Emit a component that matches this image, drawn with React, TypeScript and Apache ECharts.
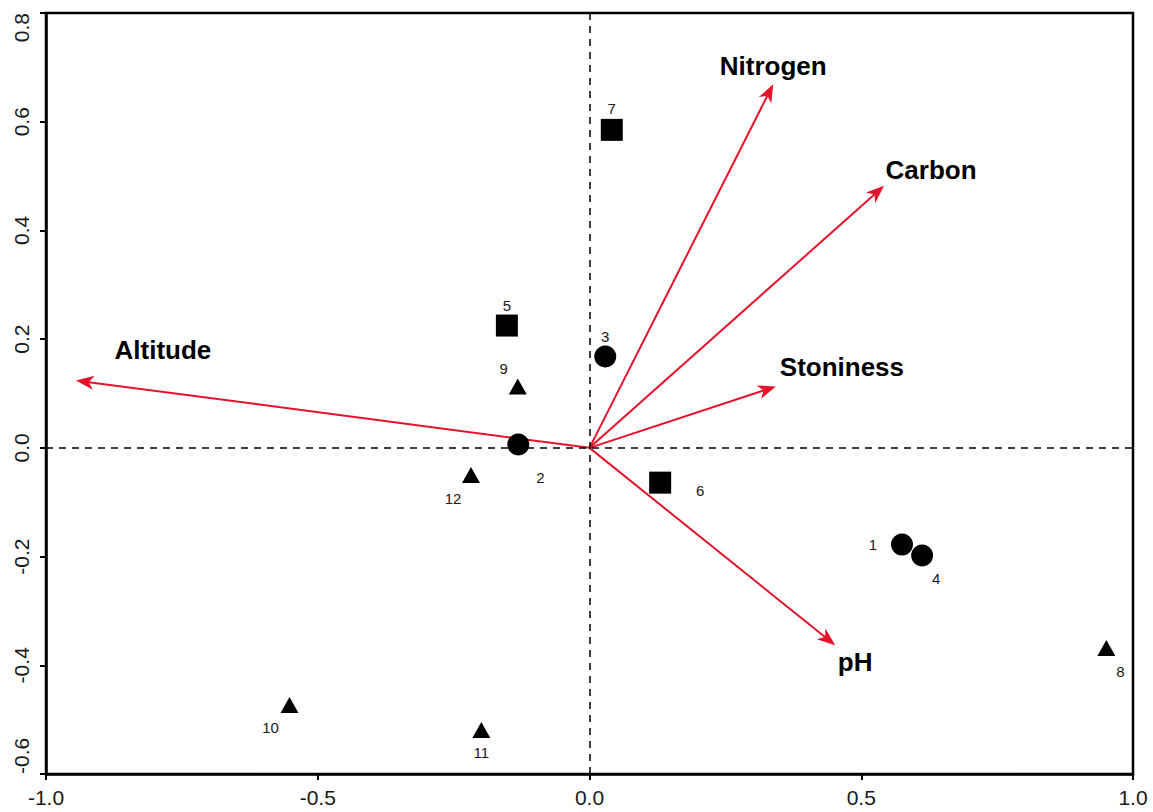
import React, { useEffect, useRef } from "react";
import * as echarts from "echarts";

// Sites (samples)
const siteLabels = ["1", "2", "3", "4", "5", "6", "7", "8", "9", "10", "11", "12"];
const siteX = [0.575, -0.131, 0.029, 0.612, -0.152, 0.130, 0.041, 0.951, -0.132, -0.552, -0.199, -0.218];
const siteY = [-0.178, 0.006, 0.168, -0.198, 0.225, -0.064, 0.585, -0.368, 0.113, -0.473, -0.519, -0.050];
const siteGroup = ["circle", "circle", "circle", "circle", "square", "square", "square", "triangle", "triangle", "triangle", "triangle", "triangle"];

// Environmental vectors
const vectorNames = ["Nitrogen", "Carbon", "Stoniness", "pH", "Altitude"];
const vectorX = [0.338, 0.542, 0.343, 0.452, -0.945];
const vectorY = [0.669, 0.482, 0.113, -0.363, 0.124];

// Axis ticks
const xTicks = [-1.0, -0.5, 0.0, 0.5, 1.0];
const yTicks = [-0.6, -0.4, -0.2, 0.0, 0.2, 0.4, 0.6, 0.8];

// Styles (pixel offsets for labels)
const siteLabelOffsets: [number, number][] = [
  [-29, 0], [22, 33], [0, -20], [14, 23], [0, -20], [40, 8],
  [0, -21], [14, 24], [-14, -18], [-19, 23], [0, 23], [-18, 23],
];
const vectorLabelOffsets: [number, number][] = [
  [0, -18], [47, -16], [66, -19], [20, 17], [87, -30],
];

const RED = "#e3132b";
const FONT = "'Liberation Sans', Arial, Helvetica, sans-serif";

const symbolFor = (g: string) =>
  g === "circle"
    ? { symbol: "circle", symbolSize: 22 }
    : g === "square"
    ? { symbol: "rect", symbolSize: 22 }
    : { symbol: "triangle", symbolSize: [18, 16] };

export default function App() {
  const ref = useRef<HTMLDivElement>(null);

  useEffect(() => {
    if (!ref.current) return;
    const chart = echarts.init(ref.current, undefined, { renderer: "svg" });

    const siteData = siteLabels.map((name, i) => ({
      name,
      value: [siteX[i], siteY[i]],
      ...symbolFor(siteGroup[i]),
      label: { offset: siteLabelOffsets[i] },
    }));

    const vectorData = vectorNames.map((name, i) => ({
      name,
      value: [vectorX[i], vectorY[i]],
    }));

    chart.setOption({
      animation: false,
      grid: {
        left: 46,
        right: 20,
        top: 13,
        bottom: 38,
        outerBoundsMode: "none",
        containLabel: false,
        show: true,
        borderColor: "#000",
        borderWidth: 2.5,
        backgroundColor: "#fff",
      },
      xAxis: {
        type: "value",
        min: xTicks[0],
        max: xTicks[xTicks.length - 1],
        interval: 0.5,
        splitLine: { show: false },
        axisLine: { show: true, onZero: false, lineStyle: { color: "#000", width: 2.5 } },
        axisTick: { show: true, length: 6, lineStyle: { color: "#000", width: 2 } },
        axisLabel: {
          color: "#1a1a1a",
          fontSize: 21,
          fontFamily: FONT,
          margin: 13,
          formatter: (v: number) => v.toFixed(1),
        },
      },
      yAxis: {
        type: "value",
        min: yTicks[0],
        max: yTicks[yTicks.length - 1],
        interval: 0.2,
        splitLine: { show: false },
        axisLine: { show: true, onZero: false, lineStyle: { color: "#000", width: 2.5 } },
        axisTick: { show: true, length: 6, lineStyle: { color: "#000", width: 2 } },
        axisLabel: {
          color: "#1a1a1a",
          fontSize: 21,
          fontFamily: FONT,
          rotate: 90,
          margin: 14,
          alignMinLabel: "left",
          alignMaxLabel: "right",
          formatter: (v: number) => v.toFixed(1),
        },
      },
      series: [
        {
          type: "scatter",
          data: [],
          z: 1,
          silent: true,
          markLine: {
            silent: true,
            symbol: "none",
            label: { show: false },
            lineStyle: { color: "#000", width: 1.5, type: [7, 6] },
            data: [{ xAxis: 0 }, { yAxis: 0 }],
          },
        },
        {
          type: "custom",
          z: 2,
          silent: true,
          data: vectorData,
          encode: { x: 0, y: 1 },
          renderItem: (params: any, api: any) => {
            const o = api.coord([0, 0]);
            const t = api.coord([api.value(0), api.value(1)]);
            const dx = t[0] - o[0];
            const dy = t[1] - o[1];
            const len = Math.hypot(dx, dy);
            const ux = dx / len;
            const uy = dy / len;
            const nx = -uy;
            const ny = ux;
            const L = 18;
            const W = 7;
            const N = 13;
            const bx = t[0] - ux * L;
            const by = t[1] - uy * L;
            const off = vectorLabelOffsets[params.dataIndex];
            return {
              type: "group",
              children: [
                {
                  type: "line",
                  shape: { x1: o[0], y1: o[1], x2: t[0] - ux * N, y2: t[1] - uy * N },
                  style: { stroke: RED, lineWidth: 2 },
                },
                {
                  type: "polygon",
                  shape: {
                    points: [
                      [t[0], t[1]],
                      [bx + nx * W, by + ny * W],
                      [t[0] - ux * N, t[1] - uy * N],
                      [bx - nx * W, by - ny * W],
                    ],
                  },
                  style: { fill: RED },
                },
                {
                  type: "text",
                  x: t[0] + off[0],
                  y: t[1] + off[1],
                  style: {
                    text: vectorNames[params.dataIndex],
                    fill: "#000",
                    font: `bold 26px ${FONT}`,
                    align: "center",
                    verticalAlign: "middle",
                  },
                },
              ],
            };
          },
        },
        {
          type: "scatter",
          z: 3,
          silent: true,
          data: siteData,
          itemStyle: { color: "#000", opacity: 1 },
          label: {
            show: true,
            position: "inside",
            formatter: (p: any) => p.name,
            color: "#1a1a1a",
            fontSize: 15,
            fontFamily: FONT,
          },
        },
      ],
    });

    return () => chart.dispose();
  }, []);

  return (
    <div
      ref={ref}
      style={{ position: "fixed", left: 0, top: 0, width: 1153, height: 812, background: "#fff" }}
    />
  );
}
